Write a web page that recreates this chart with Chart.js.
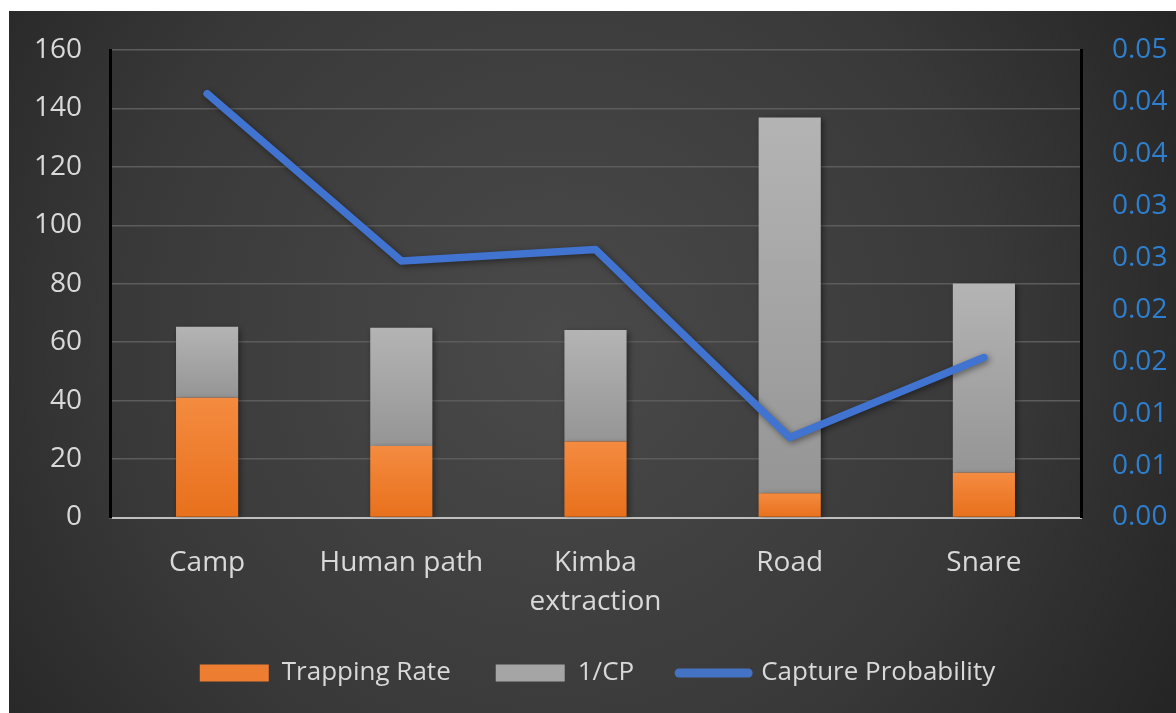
<!DOCTYPE html>
<html>
<head>
<meta charset="utf-8">
<script src="https://cdn.jsdelivr.net/npm/chart.js@4.4.1/dist/chart.umd.min.js"></script>
<style>
  html, body { margin: 0; padding: 0; background: #ffffff; }
  #wrap { position: absolute; left: 9px; top: 11px; width: 1167px; height: 702px; }
</style>
</head>
<body>
<div id="wrap"><canvas id="chart" width="1167" height="702"></canvas></div>
<script>
// Site categories (multi-line label for the long one)
const categories = ['Camp', 'Human path', ['Kimba', 'extraction'], 'Road', 'Snare'];
// Stacked bar series (left axis)
const trappingRate = [41.0, 24.5, 26.0, 8.3, 15.3];
const inverseCP = [24.3, 40.4, 38.2, 128.6, 64.8];
// Line series (right axis)
const captureProbability = [0.0408, 0.0247, 0.0258, 0.0077, 0.0154];
// Right axis labels, two decimals
const rightTickLabels = ['0.00', '0.01', '0.01', '0.02', '0.02', '0.03', '0.03', '0.04', '0.04', '0.05'];

const FONT = '"Open Sans", "Noto Sans", sans-serif';
const TEXT = '#d9d9d9';
const TICK_SIZE = 28;
const CLEAR = 'rgba(0,0,0,0)';

// Dark radial backdrop behind the whole chart
const backdrop = {
  id: 'backdrop',
  beforeDraw(chart) {
    const { ctx, width, height } = chart;
    const cx = width * 0.47, cy = height * 0.47;
    const g = ctx.createRadialGradient(cx, cy, 0, cx, cy, width * 0.62);
    g.addColorStop(0, '#4a4a4a');
    g.addColorStop(0.6, '#393939');
    g.addColorStop(1, '#242424');
    ctx.save();
    ctx.fillStyle = g;
    ctx.fillRect(0, 0, width, height);
    ctx.restore();
  }
};

// Soft drop shadow under bars and line
const shade = {
  id: 'shade',
  beforeDatasetDraw(chart) {
    const ctx = chart.ctx;
    ctx.save();
    ctx.shadowColor = 'rgba(0,0,0,0.45)';
    ctx.shadowBlur = 6;
    ctx.shadowOffsetX = 2;
    ctx.shadowOffsetY = 2;
  },
  afterDatasetDraw(chart) {
    chart.ctx.restore();
  }
};

// Vertical gradient for each bar segment
function segmentFill(ctx, lowVals, highVals, topColor, bottomColor, solid) {
  if (ctx.type !== 'data' || !ctx.chart.chartArea) return solid;
  const y = ctx.chart.scales.y;
  const i = ctx.dataIndex;
  const yTop = y.getPixelForValue(highVals[i]);
  const yBot = y.getPixelForValue(lowVals[i]);
  if (!isFinite(yTop) || !isFinite(yBot) || yTop === yBot) return solid;
  const g = ctx.chart.ctx.createLinearGradient(0, yTop, 0, yBot);
  g.addColorStop(0, topColor);
  g.addColorStop(1, bottomColor);
  return g;
}
const zeros = categories.map(() => 0);
const stackTop = trappingRate.map((v, i) => v + inverseCP[i]);

const legendColors = ['#ed7d31', '#a5a5a5', '#4472c4'];

new Chart(document.getElementById('chart'), {
  type: 'bar',
  data: {
    labels: categories,
    datasets: [
      {
        label: 'Trapping Rate',
        data: trappingRate,
        yAxisID: 'y',
        order: 1,
        backgroundColor: (c) => segmentFill(c, zeros, trappingRate, '#f48b40', '#e8701c', '#ed7d31'),
        borderWidth: 0,
        barPercentage: 0.32,
        categoryPercentage: 1
      },
      {
        label: '1/CP',
        data: inverseCP,
        yAxisID: 'y',
        order: 2,
        backgroundColor: (c) => segmentFill(c, trappingRate, stackTop, '#b4b4b4', '#959595', '#a5a5a5'),
        borderWidth: 0,
        barPercentage: 0.32,
        categoryPercentage: 1
      },
      {
        type: 'line',
        label: 'Capture Probability',
        data: captureProbability,
        yAxisID: 'y1',
        order: 0,
        borderColor: '#4173d0',
        backgroundColor: '#4173d0',
        borderWidth: 7.5,
        borderJoinStyle: 'round',
        borderCapStyle: 'round',
        pointRadius: 0,
        tension: 0,
        fill: false
      }
    ]
  },
  options: {
    responsive: false,
    devicePixelRatio: 1,
    animation: false,
    layout: { padding: { top: 39, right: 0, bottom: 17, left: 10 } },
    plugins: {
      tooltip: { enabled: false },
      legend: {
        position: 'bottom',
        labels: {
          color: TEXT,
          font: { family: FONT, size: 26, lineHeight: 1 },
          usePointStyle: true,
          pointStyleWidth: 69,
          boxHeight: 17,
          padding: 45,
          sort: (a, b) => a.datasetIndex - b.datasetIndex,
          generateLabels(chart) {
            return chart.data.datasets.map((ds, i) => ({
              text: ds.label,
              datasetIndex: i,
              hidden: false,
              fillStyle: legendColors[i],
              strokeStyle: legendColors[i],
              lineWidth: ds.type === 'line' ? 9 : 0,
              lineCap: 'round',
              pointStyle: ds.type === 'line' ? 'line' : 'rect',
              fontColor: TEXT
            }));
          }
        }
      }
    },
    scales: {
      x: {
        stacked: true,
        grid: { display: false, drawTicks: false },
        border: { display: true, color: '#bfbfbf', width: 2 },
        ticks: {
          color: TEXT,
          font: { family: FONT, size: TICK_SIZE, lineHeight: 1.4 },
          padding: 26,
          maxRotation: 0,
          autoSkip: false
        },
        afterFit(s) { s.height = 97.5; }
      },
      y: {
        stacked: true,
        position: 'left',
        min: 0,
        max: 160,
        ticks: { stepSize: 20, color: TEXT, font: { family: FONT, size: TICK_SIZE }, padding: 0 },
        grid: {
          drawTicks: true,
          tickLength: 28,
          tickColor: CLEAR,
          lineWidth: 1.5,
          color: (c) => (c.tick && c.tick.value === 0 ? CLEAR : '#5c5c5c')
        },
        border: { color: '#000000', width: 3 },
        afterFit(s) { s.width = 91; }
      },
      y1: {
        position: 'right',
        min: 0,
        max: 0.045,
        ticks: {
          stepSize: 0.005,
          color: '#2e7fcf',
          font: { family: FONT, size: TICK_SIZE },
          padding: 0,
          callback: (v, i) => rightTickLabels[i]
        },
        grid: { display: false, drawTicks: true, tickLength: 31, tickColor: CLEAR },
        border: { color: '#000000', width: 3 },
        afterFit(s) { s.width = 95; }
      }
    }
  },
  plugins: [backdrop, shade]
});
</script>
</body>
</html>
